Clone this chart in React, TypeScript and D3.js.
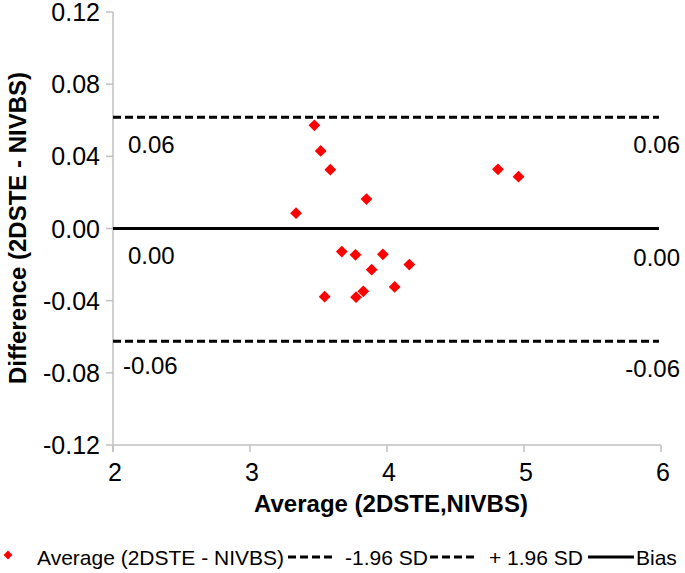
import React from "react";
import * as d3 from "d3";

const avgValues = [3.47, 3.516, 3.586, 4.81, 4.96, 3.85, 3.336, 3.67, 3.77, 3.97, 4.163, 3.888, 4.056, 3.827, 3.774, 3.545];
const diffValues = [0.0572, 0.043, 0.0326, 0.0328, 0.0287, 0.0163, 0.0085, -0.0128, -0.0146, -0.0143, -0.02, -0.0228, -0.0324, -0.0348, -0.0381, -0.0378];
const upperLimit = 0.0617;
const lowerLimit = -0.0625;
const bias = 0.0;
const xTicks = [2, 3, 4, 5, 6];
const yTicks = [-0.12, -0.08, -0.04, 0.0, 0.04, 0.08, 0.12];
const xTitle = "Average (2DSTE,NIVBS)";
const yTitle = "Difference (2DSTE - NIVBS)";
const legendItems = ["Average (2DSTE - NIVBS)", "-1.96 SD", "+ 1.96 SD", "Bias"];

const W = 685;
const H = 573;
const FONT = "'Liberation Sans', Arial, sans-serif";
const fmt = (v: number) => d3.format(".2f")(v).replace("\u2212", "-");

export default function App() {
  const x = d3.scaleLinear().domain([2, 6]).range([113, 661]);
  const y = d3.scaleLinear().domain([-0.12, 0.12]).range([445, 12]);
  const diamond = d3.symbol().type(d3.symbolDiamond2).size(88)() as string;
  const axisColor = "#c0c0c0";
  const lineEnd = 659;

  const refLines = [
    { v: upperLimit, dash: "8,4", label: "0.06" },
    { v: bias, dash: undefined, label: "0.00" },
    { v: lowerLimit, dash: "8,4", label: "-0.06" },
  ];

  return (
    <svg width={W} height={H} style={{ position: "absolute", left: 0, top: 0, background: "#fff" }} fontFamily={FONT}>
      <rect x={0} y={0} width={W} height={H} fill="#fff" />
      {/* axes */}
      <line x1={x(2)} x2={x(2)} y1={y(0.12)} y2={y(-0.12) + 7} stroke={axisColor} strokeWidth={1.5} />
      <line x1={x(2)} x2={x(6)} y1={y(-0.12)} y2={y(-0.12)} stroke={axisColor} strokeWidth={1.5} />
      {yTicks.map((t) => (
        <g key={"yt" + t}>
          <line x1={x(2) - 7} x2={x(2)} y1={y(t)} y2={y(t)} stroke={axisColor} strokeWidth={1.5} />
          <text x={100} y={y(t)} dy="0.36em" textAnchor="end" fontSize={25} fill="#000">
            {fmt(t)}
          </text>
        </g>
      ))}
      {xTicks.map((t) => (
        <g key={"xt" + t}>
          <line x1={x(t)} x2={x(t)} y1={y(-0.12)} y2={y(-0.12) + 7} stroke={axisColor} strokeWidth={1.5} />
          <text x={x(t) + 2} y={481} textAnchor="middle" fontSize={25} fill="#000">
            {t}
          </text>
        </g>
      ))}
      {/* reference lines */}
      {refLines.map((r, i) => (
        <g key={"rl" + i}>
          <line x1={x(2)} x2={lineEnd} y1={y(r.v)} y2={y(r.v)} stroke="#000" strokeWidth={3} strokeDasharray={r.dash} />
          <text x={r.label.startsWith("-") ? 123 : 128} y={y(r.v) + (i === 0 ? 36 : i === 1 ? 35 : 33)} fontSize={24} fill="#000">
            {r.label}
          </text>
          <text x={680} y={y(r.v) + (i === 0 ? 36 : i === 1 ? 37 : 36)} textAnchor="end" fontSize={24} fill="#000">
            {r.label}
          </text>
        </g>
      ))}
      {/* points */}
      {avgValues.map((a, i) => (
        <path key={"p" + i} d={diamond} transform={`translate(${x(a)},${y(diffValues[i])})`} fill="#ff0000" />
      ))}
      {/* titles */}
      <text x={391} y={512} textAnchor="middle" fontSize={24} fontWeight="bold" fill="#000">
        {xTitle}
      </text>
      <text transform={`translate(26,228) rotate(-90)`} textAnchor="middle" fontSize={24} fontWeight="bold" fill="#000">
        {yTitle}
      </text>
      {/* legend */}
      <g fontSize={21} fill="#000">
        <path d={diamond} transform="translate(8,555) scale(0.75)" fill="#ff0000" />
        <text x={37} y={565}>{legendItems[0]}</text>
        <line x1={288} x2={334} y1={557} y2={557} stroke="#000" strokeWidth={3} strokeDasharray="8,4" />
        <text x={345} y={565}>{legendItems[1]}</text>
        <line x1={430} x2={476} y1={557} y2={557} stroke="#000" strokeWidth={3} strokeDasharray="8,4" />
        <text x={489} y={565}>{legendItems[2]}</text>
        <line x1={588} x2={634} y1={557} y2={557} stroke="#000" strokeWidth={3} />
        <text x={636} y={565}>{legendItems[3]}</text>
      </g>
    </svg>
  );
}
